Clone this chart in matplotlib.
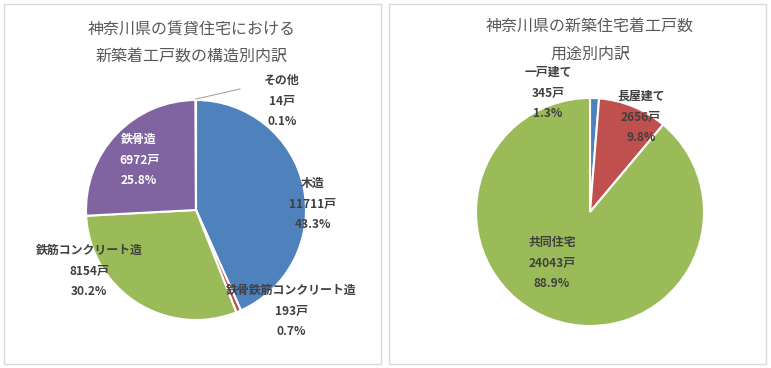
import matplotlib.pyplot as plt
from matplotlib.patches import Rectangle

plt.rcParams['font.family'] = ['Noto Sans CJK JP', 'DejaVu Sans']

# 構造別 (left chart)
struct_names = ['木造', '鉄骨鉄筋コンクリート造', '鉄筋コンクリート造', '鉄骨造', 'その他']
struct_counts = [11711, 193, 8154, 6972, 14]
struct_colors = ['#4F81BD', '#C0504D', '#9BBB59', '#8064A2', '#4BACC6']

# 用途別 (right chart)
use_names = ['一戸建て', '長屋建て', '共同住宅']
use_counts = [345, 2656, 24043]
use_colors = ['#4F81BD', '#C0504D', '#9BBB59']

W, H = 771, 368
fig = plt.figure(figsize=(W / 100, H / 100), dpi=100)
ax = fig.add_axes([0, 0, 1, 1])
ax.set_xlim(0, W)
ax.set_ylim(0, H)
ax.set_aspect('equal')
ax.axis('off')

# panel frames
for x0 in (4, 389):
    ax.add_patch(Rectangle((x0, 4), 377, 360, fill=False, ec='#d9d9d9', lw=1))


def label_text(name, count, total):
    return f"{name}\n{count}戸\n{count / total * 100:.1f}%"


# left pie
total_l = sum(struct_counts)
ax.pie(struct_counts, colors=struct_colors, startangle=90, counterclock=False,
       center=(196, H - 210), radius=110, frame=True,
       wedgeprops=dict(edgecolor='white', linewidth=1.5))
ax.set_xlim(0, W)
ax.set_ylim(0, H)
ax.axis('off')

left_pos = [(313, 204), (291, 311), (89, 271), (139, 160), (282, 101)]
for name, count, (x, y) in zip(struct_names, struct_counts, left_pos):
    col = 'white' if name == '鉄骨造' else '#404040'
    ax.text(x, H - y, label_text(name, count, total_l), ha='center', va='center',
            fontsize=8.6, fontweight='bold', color=col, linespacing=1.75)
ax.plot([196, 240], [H - 99, H - 89], color='#a6a6a6', lw=0.8)

ax.text(192, H - 30, '神奈川県の賃貸住宅における', ha='center', va='center',
        fontsize=11.5, color='#595959')
ax.text(192, H - 57, '新築着工戸数の構造別内訳', ha='center', va='center',
        fontsize=11.5, color='#595959')

# right pie
total_r = sum(use_counts)
ax.pie(use_counts, colors=use_colors, startangle=90, counterclock=False,
       center=(590, H - 212), radius=114, frame=True,
       wedgeprops=dict(edgecolor='white', linewidth=1.5))
ax.set_xlim(0, W)
ax.set_ylim(0, H)
ax.axis('off')

right_pos = [(548, 93), (641, 117), (552, 263)]
for name, count, (x, y) in zip(use_names, use_counts, right_pos):
    ax.text(x, H - y, label_text(name, count, total_r), ha='center', va='center',
            fontsize=8.6, fontweight='bold', color='#404040', linespacing=1.75)

ax.text(590, H - 27, '神奈川県の新築住宅着工戸数', ha='center', va='center',
        fontsize=11.5, color='#595959')
ax.text(590, H - 54, '用途別内訳', ha='center', va='center',
        fontsize=11.5, color='#595959')

fig.savefig('out.png', dpi=100, facecolor='white')
